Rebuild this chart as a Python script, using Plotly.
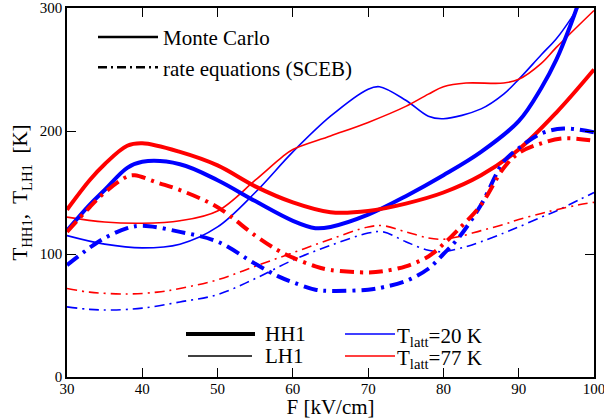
import plotly.graph_objects as go

# ---------------- data ----------------
F_hh1_20 = [30, 33, 35, 38, 40, 45, 50, 55, 60, 63, 65, 70, 75, 80, 85, 90, 93, 95, 97, 98, 99]
T_hh1_20 = [119, 140, 152, 170, 175, 173, 160, 143, 127, 121, 122, 132, 147, 164, 183, 208, 235, 258, 288, 305, 322]

F_hh1_77 = [30, 33, 35, 38, 40, 45, 50, 55, 60, 65, 70, 75, 80, 85, 90, 95, 100]
T_hh1_77 = [136, 160, 173, 188, 190, 183, 172, 155, 142, 134, 135, 141, 150, 164, 185, 215, 250]

F_lh1_20 = [30, 35, 40, 45, 50, 55, 60, 65, 70, 71.5, 75, 78, 80, 85, 88, 90, 93, 95, 97, 99]
T_lh1_20 = [115, 108, 105, 108, 122, 150, 183, 212, 234, 236, 225, 212, 210, 218, 230, 242, 262, 275, 292, 312]

F_lh1_77 = [30, 35, 40, 45, 50, 55, 58.6, 60, 65, 70, 75, 78, 80, 83, 88, 90, 93, 95, 100]
T_lh1_77 = [130, 126, 125, 127, 135, 160, 179, 185, 196, 207, 220, 230, 236, 239, 239, 242, 255, 268, 298]

F_hh1_20_re = [30, 33, 35, 38, 40, 45, 50, 55, 58, 60, 63, 65, 70, 72, 75, 78, 80, 82, 85, 88, 90, 93, 96, 100]
T_hh1_20_re = [91, 105, 113, 121, 123, 118, 110, 92, 82, 77, 71, 70, 71, 73, 78, 88, 100, 113, 140, 175, 186, 198, 202, 199]

F_hh1_77_re = [30, 33, 35, 38, 39, 42, 45, 50, 55, 58, 60, 63, 65, 70, 72, 75, 78, 80, 82, 85, 88, 90, 93, 96, 100]
T_hh1_77_re = [118, 138, 150, 163, 164, 158, 152, 138, 115, 103, 97, 90, 87, 85, 86, 90, 98, 108, 120, 140, 170, 182, 190, 194, 192]

F_lh1_20_re = [30, 33, 36, 40, 45, 50, 55, 60, 65, 70, 72, 75, 78, 80, 83, 85, 88, 90, 93, 95, 98, 100]
T_lh1_20_re = [57, 55, 54.5, 56, 61, 67, 80, 95, 107, 117, 118, 110, 103, 102, 106, 110, 117, 122, 130, 135, 144, 150]

F_lh1_77_re = [30, 33, 38, 42, 45, 50, 55, 60, 65, 70, 72, 75, 78, 80, 82, 85, 88, 90, 93, 95, 98, 100]
T_lh1_77_re = [72, 69, 67.5, 69, 72, 79, 90, 101, 112, 122, 123, 118, 113, 112, 114, 119, 124, 128, 133, 136, 140, 142]

x_ticks = [30, 40, 50, 60, 70, 80, 90, 100]
y_ticks = [0, 100, 200, 300]

legend_top = ["Monte Carlo", "rate equations (SCEB)"]
legend_band = ["HH1", "LH1"]
legend_temp = ["T<sub>latt</sub>=20 K", "T<sub>latt</sub>=77 K"]

BLUE = "#0000ff"
RED = "#ff0000"
FONT = "Liberation Serif, Times New Roman, serif"
DD_THICK = "14px,6px,3px,6px"
DD_THIN = "10px,5px,2px,5px"

W, H = 604, 419
ML, MR, MT, MB = 67, 10, 8, 42
PW, PH = W - ML - MR, H - MT - MB

def px_x(p):
    return (p - ML) / PW

def px_y(p):
    return (H - MB - p) / PH

fig = go.Figure()

def curve(x, y, color, width, dash="solid"):
    fig.add_trace(go.Scatter(x=x, y=y, mode="lines", showlegend=False,
                             line=dict(color=color, width=width, dash=dash, shape="spline", smoothing=1.0)))

curve(F_lh1_20, T_lh1_20, BLUE, 1.6)
curve(F_lh1_77, T_lh1_77, RED, 1.6)
curve(F_lh1_20_re, T_lh1_20_re, BLUE, 1.6, DD_THIN)
curve(F_lh1_77_re, T_lh1_77_re, RED, 1.6, DD_THIN)
curve(F_hh1_20, T_hh1_20, BLUE, 4)
curve(F_hh1_77, T_hh1_77, RED, 4)
curve(F_hh1_20_re, T_hh1_20_re, BLUE, 4, DD_THICK)
curve(F_hh1_77_re, T_hh1_77_re, RED, 4, DD_THICK)

# top legend (plotly legend)
fig.add_trace(go.Scatter(x=[None], y=[None], mode="lines", name=legend_top[0], legendgroup="a",
                         line=dict(color="black", width=2.5)))
fig.add_trace(go.Scatter(x=[None], y=[None], mode="lines", name=legend_top[1], legendgroup="b",
                         line=dict(color="black", width=2.5, dash="9px,4px,2px,4px")))

# bottom legends (keys as paper shapes, labels as annotations)
shapes = []
annots = []
band_keys = [(186, 255, 334, 4), (188, 252, 356, 1.6)]
for (x0, x1, yy, w), lab in zip(band_keys, legend_band):
    shapes.append(dict(type="line", xref="paper", yref="paper", x0=px_x(x0), x1=px_x(x1),
                       y0=px_y(yy), y1=px_y(yy), line=dict(color="black", width=w)))
    annots.append(dict(xref="paper", yref="paper", x=px_x(263), y=px_y(yy), text=lab, showarrow=False,
                       xanchor="left", yanchor="middle", font=dict(family=FONT, size=21, color="black")))
temp_keys = [(345, 395, 334, BLUE), (345, 395, 356, RED)]
for (x0, x1, yy, c), lab in zip(temp_keys, legend_temp):
    shapes.append(dict(type="line", xref="paper", yref="paper", x0=px_x(x0), x1=px_x(x1),
                       y0=px_y(yy), y1=px_y(yy), line=dict(color=c, width=1.6)))
    annots.append(dict(xref="paper", yref="paper", x=px_x(395), y=px_y(yy + 3), text=lab, showarrow=False,
                       xanchor="left", yanchor="middle", font=dict(family=FONT, size=21, color="black")))

fig.update_layout(
    width=W, height=H,
    margin=dict(l=ML, r=MR, t=MT, b=MB),
    paper_bgcolor="white", plot_bgcolor="white",
    font=dict(family=FONT, color="black"),
    shapes=shapes, annotations=annots,
    legend=dict(x=px_x(93), y=0.976, xanchor="left", yanchor="top", itemwidth=60, tracegroupgap=8,
                bgcolor="rgba(0,0,0,0)", borderwidth=0, traceorder="normal",
                font=dict(family=FONT, size=21, color="black")),
    xaxis=dict(range=[30, 100], tickvals=x_ticks, ticks="inside", ticklen=9, tickwidth=1,
               tickcolor="black", showline=True, linecolor="black", linewidth=1.5, mirror="ticks",
               showgrid=False, zeroline=False, automargin=False, ticklabeloverflow="allow",
               ticklabelstandoff=-3, tickfont=dict(family=FONT, size=15),
               title=dict(text="F [kV/cm]", font=dict(family=FONT, size=21), standoff=1)),
    yaxis=dict(range=[0, 300], tickvals=y_ticks, ticks="inside", ticklen=9, tickwidth=1,
               tickcolor="black", showline=True, linecolor="black", linewidth=1.5, mirror="ticks",
               showgrid=False, zeroline=False, automargin=False, ticklabeloverflow="allow",
               tickfont=dict(family=FONT, size=15),
               title=dict(text="T<sub>HH1</sub>,  T<sub>LH1</sub>  [K]", font=dict(family=FONT, size=21), standoff=6)),
)

fig.write_html("out.html")
